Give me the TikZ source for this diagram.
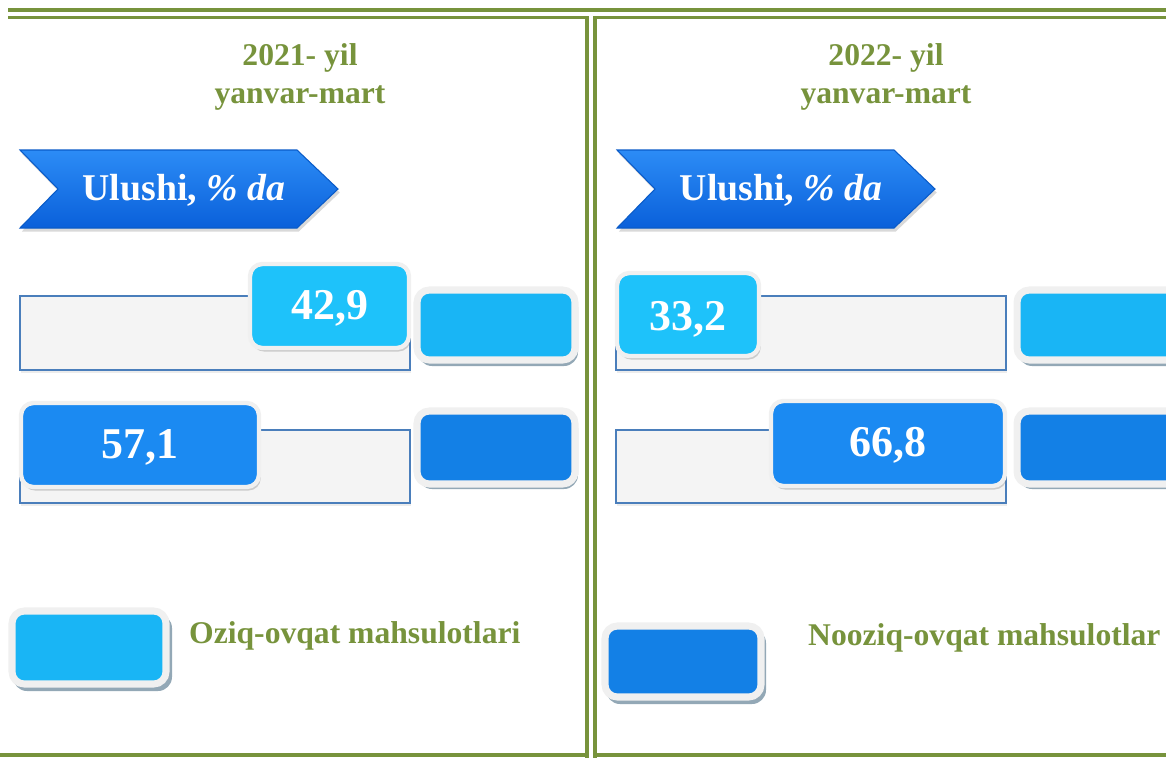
\documentclass[tikz,border=0pt]{standalone}
\usepackage{fontspec}
\setmainfont{Liberation Serif}
\usetikzlibrary{shadows}

\definecolor{olivegreen}{HTML}{77933C}
\definecolor{barline}{HTML}{4A7EBB}
\definecolor{barfill}{HTML}{F4F4F4}
\definecolor{foodval}{HTML}{1EC2FA}
\definecolor{foodkey}{HTML}{19B5F5}
\definecolor{nonfoodval}{HTML}{1B8AF2}
\definecolor{nonfoodkey}{HTML}{1380E6}
\definecolor{keyrim}{HTML}{F0F0F0}
\definecolor{keyshade}{HTML}{93A8B6}
\definecolor{bantop}{HTML}{2C8CF6}
\definecolor{banmid}{HTML}{0A6DE9}
\definecolor{banbot}{HTML}{0A60DA}
\definecolor{banedge}{HTML}{0A5BC8}

\begin{document}
\begin{tikzpicture}[x=0.02cm, y=-0.02cm]
\tikzstyle{frame}=[draw=olivegreen, line width=2.2pt]
\tikzstyle{title}=[text=olivegreen, font=\fontsize{18}{21.5}\selectfont\bfseries, align=center]
\tikzstyle{banner}=[top color=bantop, middle color=banmid, bottom color=banbot, draw=banedge, line width=0.6pt, drop shadow={opacity=0.3, shadow xshift=1pt, shadow yshift=-2pt}]
\tikzstyle{bantext}=[text=white, font=\fontsize{21.5}{25}\selectfont\bfseries]
\tikzstyle{bar}=[fill=barfill, draw=barline, line width=0.8pt, drop shadow={opacity=0.15, shadow xshift=0.5pt, shadow yshift=-1.5pt}]
\tikzstyle{valbox}=[draw=keyrim, line width=2.5pt, rounded corners=7pt, drop shadow={opacity=0.35, shadow xshift=1pt, shadow yshift=-2pt}]
\tikzstyle{valtext}=[text=white, font=\fontsize{25}{29}\selectfont\bfseries]
\tikzstyle{keyback}=[fill=keyshade, rounded corners=8pt]
\tikzstyle{keybox}=[draw=keyrim, line width=4pt, rounded corners=7pt]
\tikzstyle{keytext}=[text=olivegreen, font=\fontsize{18}{22}\selectfont\bfseries, anchor=west]

\useasboundingbox (0,0) rectangle (1166,758);

% Frame
\draw [frame] (8,10) -- (1166,10);
\draw [frame] (8,17.5) -- (587,17.5) -- (587,758);
\draw [frame] (1166,17.5) -- (595,17.5) -- (595,758);
\draw [frame] (0,755) -- (587,755);
\draw [frame] (595,755) -- (1166,755);

% Titles
\node at (300,77) [title] (title_1) {2021- yil\\yanvar-mart};
\node at (886,77) [title] (title_2) {2022- yil\\yanvar-mart};

% Banners
\foreach \d/\n in {0/1,597/2}
{
\draw [banner] (20+\d,150) -- (297+\d,150) -- (338+\d,189) -- (297+\d,228)
  -- (20+\d,228) -- (58+\d,189) -- cycle;
\node at (184+\d,190) [bantext] (ulushi_\n) {Ulushi, \textit{\% da}};
}

% Bars
\foreach \d in {0,596}
{
\draw [bar] (20+\d,296) rectangle (410+\d,370);
\draw [bar] (20+\d,430) rectangle (410+\d,503);
}

% Key boxes beside bars
\foreach \d/\w in {0/575,600/1180}
{
\fill [keyback] (418+\d,293) rectangle (\w+3,366);
\draw [keybox, fill=foodkey] (417+\d,290) rectangle (\w,360);
\fill [keyback] (418+\d,414) rectangle (\w+3,489);
\draw [keybox, fill=nonfoodkey] (417+\d,411) rectangle (\w,484);
}

% Values 2021
\draw [valbox, fill=foodval] (250,264) rectangle (409,348);
\node at (330,308) [valtext] (val_food_1) {42,9};
\draw [valbox, fill=nonfoodval] (21,403) rectangle (259,487);
\node at (140,447) [valtext] (val_nonfood_1) {57,1};

% Values 2022
\draw [valbox, fill=foodval] (617,273) rectangle (759,356);
\node at (688,319) [valtext] (val_food_2) {33,2};
\draw [valbox, fill=nonfoodval] (771,401) rectangle (1005,486);
\node at (888,445) [valtext] (val_nonfood_2) {66,8};

% Legend
\fill [keyback] (13,614) rectangle (172,691);
\draw [keybox, fill=foodkey] (12,611) rectangle (166,684);
\node at (183,636) [keytext] (key_food) {Oziq-ovqat mahsulotlari};
\fill [keyback] (606,629) rectangle (766,704);
\draw [keybox, fill=nonfoodkey] (605,626) rectangle (761,697);
\node at (802,638) [keytext] (key_nonfood) {Nooziq-ovqat mahsulotlar};
\end{tikzpicture}
\end{document}
